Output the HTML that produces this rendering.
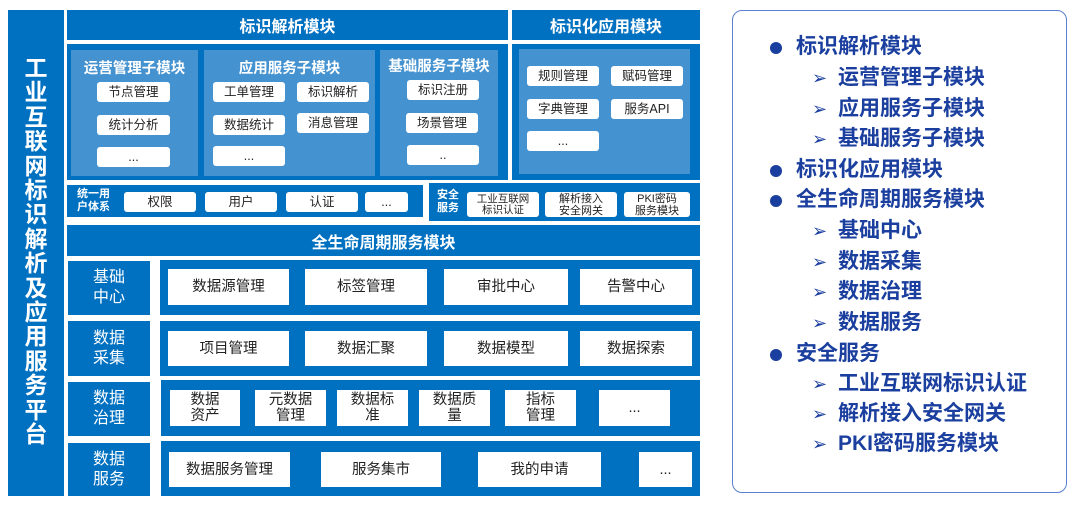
<!DOCTYPE html>
<html><head><meta charset="utf-8"><style>
body{margin:0;width:1080px;height:506px;background:#fff;position:relative;overflow:hidden;font-family:"Liberation Sans","Noto Sans CJK SC",sans-serif}
div{position:absolute;box-sizing:border-box}
.d{background:#0070c0}
.l{background:#4592d0}
.w{background:#fff;color:#222;display:flex;align-items:center;justify-content:center;text-align:center;font-size:12.5px;line-height:13px;border-radius:3px}
.r .w{border-radius:0;font-size:14.5px;line-height:16px}
.h{color:#fff;font-weight:bold;display:flex;align-items:center;justify-content:center;font-size:16px}
.s{color:#fff;font-weight:bold;font-size:14.5px;text-align:center;width:100%;}
.lab{color:#fff;font-size:16px;line-height:20px;display:flex;align-items:center;justify-content:center;text-align:center}
.li{font-size:21px;font-weight:bold;color:#1b3f9e;white-space:nowrap;line-height:24px}
.b{width:12px;height:12px;border-radius:50%;background:#1b3f9e;left:770px}
.a{left:812px;font-size:18px;color:#1b3f9e;line-height:24px}
</style></head><body>
<div class="d" style="left:8px;top:10px;width:56px;height:486px"></div>
<div style="left:8px;top:56px;width:56px;color:#fff;font-weight:bold;font-size:23px;line-height:24.4px;text-align:center">工<br>业<br>互<br>联<br>网<br>标<br>识<br>解<br>析<br>及<br>应<br>用<br>服<br>务<br>平<br>台</div>

<div class="d h" style="left:67px;top:10px;width:441px;height:30px">标识解析模块</div>
<div class="d h" style="left:512px;top:10px;width:188px;height:30px">标识化应用模块</div>
<div class="d" style="left:67px;top:44px;width:441px;height:136px"></div>
<div class="d" style="left:512px;top:44px;width:188px;height:136px"></div>
<div class="l" style="left:71px;top:50px;width:127px;height:126px"><div class="s" style="top:7px">运营管理子模块</div></div>
<div class="l" style="left:204px;top:50px;width:171px;height:126px"><div class="s" style="top:7px">应用服务子模块</div></div>
<div class="l" style="left:380px;top:50px;width:118px;height:126px"><div class="s" style="top:5px">基础服务子模块</div></div>
<div class="l" style="left:519px;top:49px;width:171px;height:125px"></div>
<div class="w" style="left:97px;top:82px;width:73px;height:20px">节点管理</div>
<div class="w" style="left:97px;top:115px;width:73px;height:20px">统计分析</div>
<div class="w" style="left:97px;top:147px;width:73px;height:20px">...</div>
<div class="w" style="left:213px;top:82px;width:72px;height:20px">工单管理</div>
<div class="w" style="left:297px;top:82px;width:72px;height:20px">标识解析</div>
<div class="w" style="left:213px;top:115px;width:72px;height:20px">数据统计</div>
<div class="w" style="left:297px;top:113px;width:72px;height:20px">消息管理</div>
<div class="w" style="left:213px;top:146px;width:72px;height:20px">...</div>
<div class="w" style="left:407px;top:80px;width:72px;height:20px">标识注册</div>
<div class="w" style="left:406px;top:113px;width:72px;height:20px">场景管理</div>
<div class="w" style="left:407px;top:145px;width:72px;height:20px">..</div>
<div class="w" style="left:527px;top:66px;width:72px;height:20px">规则管理</div>
<div class="w" style="left:611px;top:66px;width:72px;height:20px">赋码管理</div>
<div class="w" style="left:527px;top:99px;width:72px;height:20px">字典管理</div>
<div class="w" style="left:611px;top:99px;width:72px;height:20px">服务API</div>
<div class="w" style="left:527px;top:131px;width:72px;height:20px">...</div>

<div class="d" style="left:67px;top:185px;width:356px;height:32px"></div>
<div style="left:77px;top:188px;color:#fff;font-weight:bold;font-size:11px;line-height:13px">统一用<br>户体系</div>
<div class="w" style="left:124px;top:192px;width:72px;height:20px">权限</div>
<div class="w" style="left:205px;top:192px;width:72px;height:20px">用户</div>
<div class="w" style="left:286px;top:192px;width:72px;height:20px">认证</div>
<div class="w" style="left:365px;top:192px;width:43px;height:20px">...</div>
<div class="d" style="left:429px;top:183px;width:271px;height:38px"></div>
<div style="left:437px;top:189px;color:#fff;font-weight:bold;font-size:11px;line-height:13px">安全<br>服务</div>
<div class="w" style="left:467px;top:192px;width:72px;height:25px;font-size:10.5px;line-height:11px">工业互联网<br>标识认证</div>
<div class="w" style="left:545px;top:192px;width:72px;height:25px;font-size:11px;line-height:12px">解析接入<br>安全网关</div>
<div class="w" style="left:624px;top:192px;width:66px;height:25px;font-size:11px;line-height:12px">PKI密码<br>服务模块</div>

<div class="d h" style="left:67px;top:225px;width:633px;height:31px">全生命周期服务模块</div>

<div class="r">
<div class="d lab" style="left:68px;top:261px;width:82px;height:54px">基础<br>中心</div>
<div class="d" style="left:160px;top:260px;width:540px;height:55px"></div>
<div class="w" style="left:168px;top:269px;width:121px;height:36px">数据源管理</div>
<div class="w" style="left:305px;top:269px;width:122px;height:36px">标签管理</div>
<div class="w" style="left:444px;top:269px;width:124px;height:36px">审批中心</div>
<div class="w" style="left:580px;top:269px;width:112px;height:36px">告警中心</div>

<div class="d lab" style="left:68px;top:321px;width:82px;height:55px">数据<br>采集</div>
<div class="d" style="left:160px;top:321px;width:540px;height:55px"></div>
<div class="w" style="left:168px;top:331px;width:121px;height:35px">项目管理</div>
<div class="w" style="left:305px;top:331px;width:122px;height:35px">数据汇聚</div>
<div class="w" style="left:444px;top:331px;width:124px;height:35px">数据模型</div>
<div class="w" style="left:580px;top:331px;width:112px;height:35px">数据探索</div>

<div class="d lab" style="left:68px;top:382px;width:82px;height:54px">数据<br>治理</div>
<div class="d" style="left:161px;top:380px;width:539px;height:56px"></div>
<div class="w" style="left:170px;top:390px;width:70px;height:36px">数据<br>资产</div>
<div class="w" style="left:255px;top:390px;width:71px;height:36px">元数据<br>管理</div>
<div class="w" style="left:337px;top:390px;width:71px;height:36px">数据标<br>准</div>
<div class="w" style="left:419px;top:390px;width:71px;height:36px">数据质<br>量</div>
<div class="w" style="left:505px;top:390px;width:71px;height:36px">指标<br>管理</div>
<div class="w" style="left:599px;top:390px;width:71px;height:36px">...</div>

<div class="d lab" style="left:68px;top:443px;width:82px;height:53px">数据<br>服务</div>
<div class="d" style="left:161px;top:441px;width:539px;height:55px"></div>
<div class="w" style="left:169px;top:452px;width:121px;height:35px">数据服务管理</div>
<div class="w" style="left:321px;top:452px;width:120px;height:35px">服务集市</div>
<div class="w" style="left:478px;top:452px;width:123px;height:35px">我的申请</div>
<div class="w" style="left:639px;top:452px;width:53px;height:35px">...</div>
</div>

<div style="left:732px;top:10px;width:335px;height:483px;border:1.5px solid #5a7fcc;border-radius:10px"></div>

<div class="b" style="top:42px"></div><div class="li" style="left:796px;top:35px">标识解析模块</div>
<div class="a" style="top:66px">➢</div><div class="li" style="left:838px;top:66px">运营管理子模块</div>
<div class="a" style="top:97px">➢</div><div class="li" style="left:838px;top:97px">应用服务子模块</div>
<div class="a" style="top:127px">➢</div><div class="li" style="left:838px;top:127px">基础服务子模块</div>
<div class="b" style="top:165px"></div><div class="li" style="left:796px;top:158px">标识化应用模块</div>
<div class="b" style="top:195px"></div><div class="li" style="left:796px;top:188px">全生命周期服务模块</div>
<div class="a" style="top:219px">➢</div><div class="li" style="left:838px;top:219px">基础中心</div>
<div class="a" style="top:250px">➢</div><div class="li" style="left:838px;top:250px">数据采集</div>
<div class="a" style="top:280px">➢</div><div class="li" style="left:838px;top:280px">数据治理</div>
<div class="a" style="top:311px">➢</div><div class="li" style="left:838px;top:311px">数据服务</div>
<div class="b" style="top:349px"></div><div class="li" style="left:796px;top:342px">安全服务</div>
<div class="a" style="top:372px">➢</div><div class="li" style="left:838px;top:372px">工业互联网标识认证</div>
<div class="a" style="top:402px">➢</div><div class="li" style="left:838px;top:402px">解析接入安全网关</div>
<div class="a" style="top:432px">➢</div><div class="li" style="left:838px;top:432px">PKI密码服务模块</div>
</body></html>
